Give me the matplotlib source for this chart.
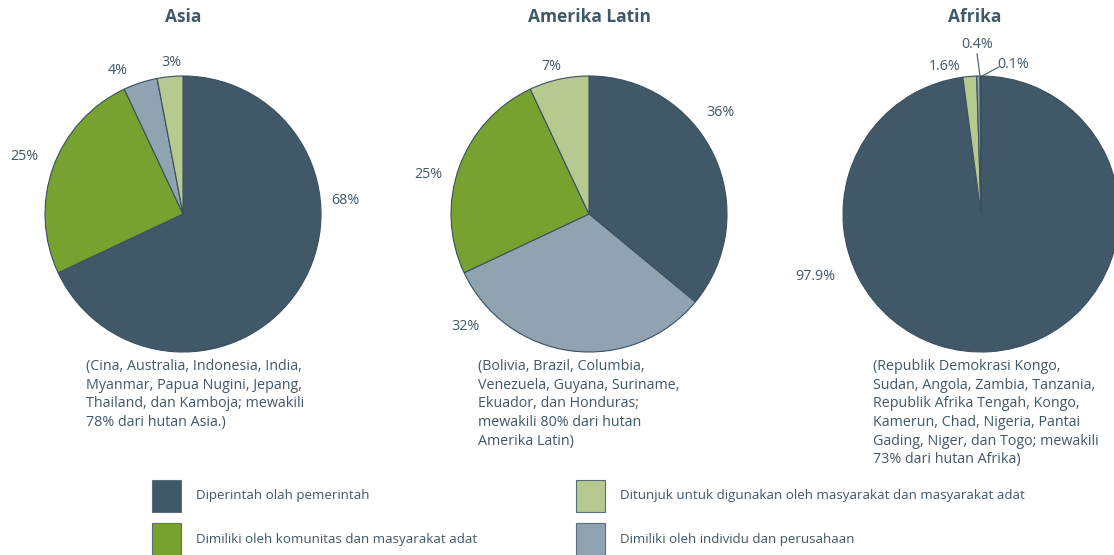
import matplotlib
matplotlib.use("Agg")
import matplotlib.pyplot as plt
from matplotlib.patches import Rectangle

# ---------------- data ----------------
categories = ["Diperintah olah pemerintah",
              "Dimiliki oleh komunitas dan masyarakat adat",
              "Ditunjuk untuk digunakan oleh masyarakat dan masyarakat adat",
              "Dimiliki oleh individu dan perusahaan"]
region_titles = ["Asia", "Amerika Latin", "Afrika"]

# slices in clockwise order from 12 o'clock, with category index
asia_cats = [0, 1, 3, 2]
asia_vals = [68, 25, 4, 3]
asia_labels = ["68%", "25%", "4%", "3%"]

latin_cats = [0, 3, 1, 2]
latin_vals = [36, 32, 25, 7]
latin_labels = ["36%", "32%", "25%", "7%"]

africa_cats = [0, 2, 3, 1]
africa_vals = [97.9, 1.6, 0.4, 0.1]
africa_labels = ["97.9%", "1.6%", "0.4%", "0.1%"]

notes = [
    "(Cina, Australia, Indonesia, India,\nMyanmar, Papua Nugini, Jepang,\nThailand, dan Kamboja; mewakili\n78% dari hutan Asia.)",
    "(Bolivia, Brazil, Columbia,\nVenezuela, Guyana, Suriname,\nEkuador, dan Honduras;\nmewakili 80% dari hutan\nAmerika Latin)",
    "(Republik Demokrasi Kongo,\nSudan, Angola, Zambia, Tanzania,\nRepublik Afrika Tengah, Kongo,\nKamerun, Chad, Nigeria, Pantai\nGading, Niger, dan Togo; mewakili\n73% dari hutan Afrika)",
]

# ---------------- style / layout ----------------
colors = ["#405868", "#78a22f", "#b6c98e", "#8fa3b0"]
text_color = "#405868"
W, H = 1114, 555
FONT = "Open Sans"

centers = [(183, 214), (589, 214), (981, 214)]
radius = 138
label_pos = [
    [(345, 201), (24, 157), (118, 71), (171, 63)],
    [(720, 113), (465, 327), (428, 175), (551, 67)],
    [(815, 277), (945, 66), (977, 45), (1013, 64)],
]
note_pos = [(86, 359), (478, 359), (873, 359)]
title_x = [183, 589, 975]

fig = plt.figure(figsize=(W / 100, H / 100), dpi=100)
ax = fig.add_axes([0, 0, 1, 1])
ax.set_xlim(0, W)
ax.set_ylim(0, H)
ax.set_aspect("equal")
ax.axis("off")

def Y(py):
    return H - py

datasets = [(asia_vals, asia_cats, asia_labels),
            (latin_vals, latin_cats, latin_labels),
            (africa_vals, africa_cats, africa_labels)]

for i, (vals, cats, labs) in enumerate(datasets):
    cx, cy = centers[i]
    ax.pie(vals, colors=[colors[c] for c in cats], startangle=90,
           counterclock=False, center=(cx, Y(cy)), radius=radius,
           wedgeprops=dict(edgecolor="#3a5060", linewidth=0.8),
           frame=True)
    for lab, (lx, ly) in zip(labs, label_pos[i]):
        ax.text(lx, Y(ly), lab, ha="center", va="center", fontsize=10.3,
                color=text_color, family=FONT)
    ax.text(title_x[i], Y(17), region_titles[i], ha="center", va="center",
            fontsize=12.5, fontweight="bold", color=text_color, family=FONT)
    nx, ny = note_pos[i]
    ax.text(nx, Y(ny), notes[i], ha="left", va="top", fontsize=10.3,
            color=text_color, family=FONT, linespacing=1.33)

# leader lines for tiny Africa slices
ax.plot([977, 980], [Y(54), Y(76)], color=text_color, lw=0.8)
ax.plot([999, 982], [Y(67), Y(76)], color=text_color, lw=0.8)

ax.set_xlim(0, W)
ax.set_ylim(0, H)
ax.axis("off")

# legend
leg_pos = [(152, 480), (152, 523), (576, 480), (576, 523)]
for (lx, ly), cat_i in zip(leg_pos, [0, 1, 2, 3]):
    ax.add_patch(Rectangle((lx, Y(ly + 32)), 29, 32, facecolor=colors[cat_i],
                           edgecolor="#5a6e7a", linewidth=0.8))
    ax.text(lx + 44, Y(ly + 16), categories[cat_i], ha="left", va="center",
            fontsize=9.6, color=text_color, family=FONT)

fig.savefig("out.png", dpi=100)
